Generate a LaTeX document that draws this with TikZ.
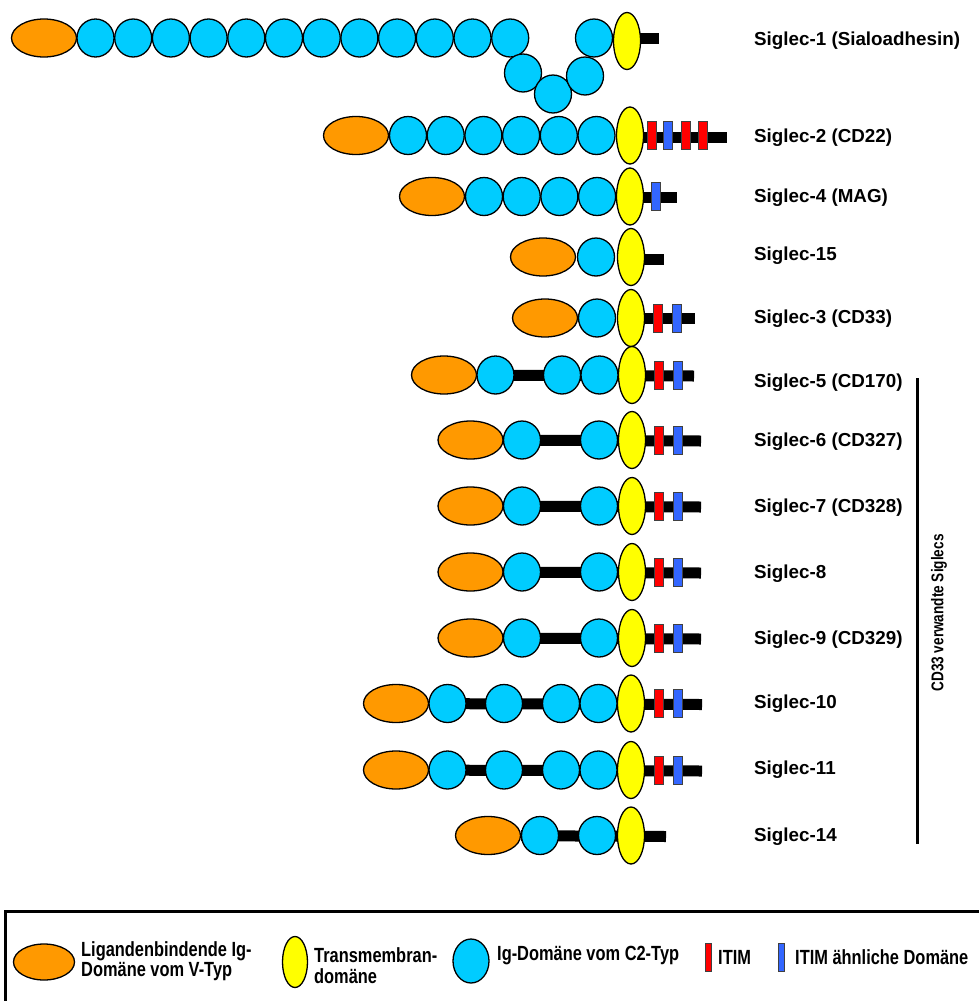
\documentclass[tikz,border=0pt]{standalone}
\usepackage{fontspec}
\setmainfont{Liberation Sans}
\newfontfamily\narrowsf[FakeStretch=0.8]{Liberation Sans}
\usepackage{tikz}
\usetikzlibrary{shapes.geometric,positioning}
\definecolor{LigandOrange}{HTML}{FF9900}
\definecolor{IgCyan}{HTML}{00CCFF}
\definecolor{TmYellow}{HTML}{FFFF00}
\definecolor{ItimRed}{HTML}{FF0000}
\definecolor{ItimBlue}{HTML}{3366FF}
\pgfdeclarelayer{bg}
\pgfsetlayers{bg,main}

\begin{document}
\begin{tikzpicture}[x=1pt,y=-1pt,
  vdom/.style={ellipse,draw,line width=1.3pt,fill=LigandOrange,minimum width=65pt,minimum height=38pt,inner sep=0pt},
  igdom/.style={ellipse,draw,line width=1.3pt,fill=IgCyan,minimum width=37pt,minimum height=38pt,inner sep=0pt},
  tmdom/.style={ellipse,draw,line width=1.3pt,fill=TmYellow,minimum width=27pt,minimum height=57pt,inner sep=0pt},
  itim/.style={draw=black!75,line width=.9pt,fill=ItimRed,minimum width=9pt,minimum height=28pt,inner sep=0pt},
  itimlike/.style={itim,fill=ItimBlue},
  stalk/.style={line width=11pt},
  siglabel/.style={anchor=west,inner sep=0pt,font=\bfseries\fontsize{18.8}{20}\selectfont},
  legtext/.style={anchor=west,align=left,inner sep=0pt,font=\narrowsf\bfseries\fontsize{20.5}{18}\selectfont}]
  \useasboundingbox (0,0) rectangle (978,1001);

  % Siglec-1
  \node[vdom] (s1v) at (44,38) {};
  \foreach \i in {0,...,11}
    \node[igdom] (s1c\i) at (95.5+37.7*\i,38) {};
  \node[igdom] (s1d1) at (523,73) {};
  \node[igdom] (s1d2) at (553,94) {};
  \node[igdom] (s1d3) at (585,76) {};
  \node[igdom] (s1d4) at (594,38) {};
  \node[tmdom] (s1tm) at (627,41) {};
  \coordinate (s1end) at (659,38);
  \begin{pgfonlayer}{bg}\draw[stalk] (s1end -| s1tm) -- (s1end);\end{pgfonlayer}
  \node[siglabel] (l1) at (754,41) {Siglec-1 (Sialoadhesin)};

  % Siglec-2
  \node[vdom] (s2v) at (356,135.5) {};
  \foreach \i in {0,...,5}
    \node[igdom] (s2c\i) at (408+37.7*\i,135.5) {};
  \node[tmdom] (s2tm) at (630,135.5) {};
  \node[itim] (s2a) at (652,135.5) {};
  \node[itimlike] (s2b) at (667.5,135.5) {};
  \node[itim] (s2c) at (686,135.5) {};
  \node[itim] (s2d) at (703,135.5) {};
  \coordinate (s2end) at (727,137);
  \begin{pgfonlayer}{bg}\draw[stalk] (s2end -| s2tm) -- (s2end);\end{pgfonlayer}
  \node[siglabel] (l2) at (754,138) {Siglec-2 (CD22)};

  % Siglec-4
  \node[vdom] (s4v) at (432,196.5) {};
  \foreach \i in {0,...,3}
    \node[igdom] (s4c\i) at (484+37.7*\i,196.5) {};
  \node[tmdom] (s4tm) at (630,196.5) {};
  \node[itimlike] (s4a) at (656,196.5) {};
  \coordinate (s4end) at (677,197.5);
  \begin{pgfonlayer}{bg}\draw[stalk] (s4end -| s4tm) -- (s4end);\end{pgfonlayer}
  \node[siglabel] (l4) at (754,198) {Siglec-4 (MAG)};

  % Siglec-15
  \node[vdom] (s15v) at (543,257) {};
  \node[igdom] (s15c) at (596,257) {};
  \node[tmdom] (s15tm) at (631,257) {};
  \coordinate (s15end) at (664,259);
  \begin{pgfonlayer}{bg}\draw[stalk] (s15end -| s15tm) -- (s15end);\end{pgfonlayer}
  \node[siglabel] (l15) at (754,256) {Siglec-15};

  % Siglec-3
  \node[vdom] (s3v) at (545,318) {};
  \node[igdom] (s3c) at (597,318) {};
  \node[tmdom] (s3tm) at (631,318) {};
  \node[itim] (s3a) at (658,318) {};
  \node[itimlike] (s3b) at (677,318) {};
  \coordinate (s3end) at (695,318);
  \begin{pgfonlayer}{bg}\draw[stalk] (s3end -| s3tm) -- (s3end);\end{pgfonlayer}
  \node[siglabel] (l3) at (754,319) {Siglec-3 (CD33)};

  % Siglec-5
  \node[vdom] (s5v) at (444,375) {};
  \node[igdom] (s5c0) at (495.5,375) {};
  \node[igdom] (s5c1) at (562,375) {};
  \node[igdom] (s5c2) at (599.5,375) {};
  \node[tmdom] (s5tm) at (632,375) {};
  \node[itim] (s5a) at (659,375) {};
  \node[itimlike] (s5b) at (678,375) {};
  \coordinate (s5end) at (694,376);
  \begin{pgfonlayer}{bg}\draw[stalk] (s5v) -- (s5end);\end{pgfonlayer}
  \node[siglabel] (l5) at (754,383) {Siglec-5 (CD170)};

  % Siglec-6 to Siglec-9
  \foreach \n/\y/\txt in {6/440/Siglec-6 (CD327),7/506/Siglec-7 (CD328),8/572/Siglec-8,9/638/Siglec-9 (CD329)}{
    \node[vdom] (s\n v) at (470.5,\y) {};
    \node[igdom] (s\n c0) at (522,\y) {};
    \node[igdom] (s\n c1) at (599,\y) {};
    \node[tmdom] (s\n tm) at (632,\y) {};
    \node[itim] (s\n a) at (659,\y) {};
    \node[itimlike] (s\n b) at (678,\y) {};
    \coordinate (s\n end) at (701,\y+1);
    \begin{pgfonlayer}{bg}\draw[stalk] (s\n v) -- (s\n end);\end{pgfonlayer}
    \node[siglabel] (l\n) at (754,\y+2) {\txt};
  }

  % Siglec-10 and Siglec-11
  \foreach \n/\y in {10/703.5,11/770}{
    \node[vdom] (s\n v) at (396,\y) {};
    \node[igdom] (s\n c0) at (447.5,\y) {};
    \node[igdom] (s\n c1) at (504,\y) {};
    \node[igdom] (s\n c2) at (561,\y) {};
    \node[igdom] (s\n c3) at (598.5,\y) {};
    \node[tmdom] (s\n tm) at (631,\y) {};
    \node[itim] (s\n a) at (659,\y) {};
    \node[itimlike] (s\n b) at (678,\y) {};
    \coordinate (s\n end) at (702,\y+1);
    \begin{pgfonlayer}{bg}\draw[stalk] (s\n v) -- (s\n end);\end{pgfonlayer}
    \node[siglabel] (l\n) at (754,\y) {Siglec-\n};
  }

  % Siglec-14
  \node[vdom] (s14v) at (488,835.5) {};
  \node[igdom] (s14c0) at (540,835.5) {};
  \node[igdom] (s14c1) at (597,835.5) {};
  \node[tmdom] (s14tm) at (631,835.5) {};
  \coordinate (s14end) at (666,836.5);
  \begin{pgfonlayer}{bg}\draw[stalk] (s14v) -- (s14end);\end{pgfonlayer}
  \node[siglabel] (l14) at (754,837) {Siglec-14};

  % CD33 group
  \coordinate (grtop) at (917.5,378);
  \coordinate (grbot) at (917.5,844);
  \draw[line width=3.5pt] (grtop) -- (grbot);
  \node[rotate=90,inner sep=0pt,font=\narrowsf\bfseries\fontsize{17}{17}\selectfont] (grlabel) at (939,613) {CD33 verwandte Siglecs};

  % legend
  \draw[line width=3pt] (5.5,1020) |- (990,911);
  \node[vdom,minimum width=61pt,minimum height=36pt] (kv) at (44,962) {};
  \node[legtext] (kvt) at (81,961) {Ligandenbindende Ig-\\Domäne vom V-Typ};
  \node[tmdom,minimum width=25pt,minimum height=51pt] (ktm) at (295,962) {};
  \node[legtext] (ktmt) at (314,966) {Transmembran-\\[3pt]domäne};
  \node[igdom,minimum width=36pt,minimum height=44pt] (kc) at (471,961) {};
  \node[legtext] (kct) at (497,956) {Ig-Domäne vom C2-Typ};
  \node[itim,minimum width=6pt] (ki) at (708,957) {};
  \node[legtext] (kit) at (718,957) {ITIM};
  \node[itimlike,minimum width=6pt] (kl) at (781,957) {};
  \node[legtext] (klt) at (795,957) {ITIM ähnliche Domäne};
\end{tikzpicture}
\end{document}
